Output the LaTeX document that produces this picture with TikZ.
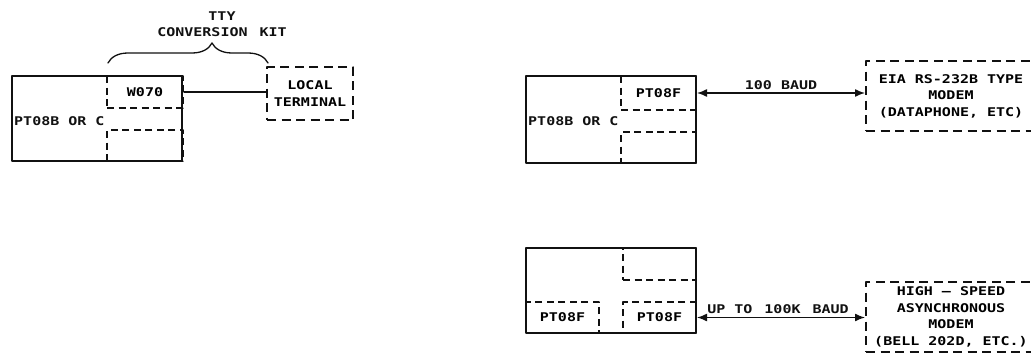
\documentclass[tikz,border=0pt]{standalone}
\usepackage{fontspec}
\setmainfont{DejaVu Sans Mono}[FakeStretch=1.25]
\usetikzlibrary{arrows.meta, decorations.pathreplacing, positioning}
\definecolor{ink}{HTML}{111111}
\tikzset{el/.style={line cap=round, line join=round},
  cpu/.style={draw=ink, line width=2.2pt, minimum width=170pt, anchor=north west, inner sep=0pt},
  slot/.style={draw=ink, line width=2pt, line cap=butt, dash pattern=on 7pt off 4.5pt, anchor=north west, inner sep=0pt},
  ext/.style={draw=ink, line width=2pt, line cap=butt, dash pattern=on 9pt off 5.5pt, align=center, inner sep=0pt},
  wire/.style={draw=ink, line width=1.4pt},
  bothtips/.style={{Latex[length=10pt,width=8pt]}-{Latex[length=10pt,width=8pt]}},
  lbl/.style={text=ink, inner sep=1pt}}

\begin{document}
\begin{tikzpicture}[el, x=1pt, y=-1pt, font=\fontsize{12}{16.5}\selectfont\bfseries]
  \useasboundingbox (0,0) rectangle (1031,356);
  % local terminal through the TTY kit
  \node[slot, minimum width=76pt, minimum height=32pt] (w070) at (106,75) {W070};
  \node[slot, minimum width=76pt, minimum height=31pt] (spareA) at (106,129) {};
  \node[cpu, minimum height=85pt] (cpuA) at (11,75) {};
  \node[lbl, anchor=west] (nameA) at (13,121) {PT08B OR C};
  \node[ext, minimum width=86pt, minimum height=53pt] (term) at (310,93.5) {LOCAL\\TERMINAL};
  \draw[wire] (w070.east) -- (w070.east -| term.west);
  \coordinate (kitL) at (108,63); \coordinate (kitR) at (268,63);
  \draw[ink, line width=1.3pt, decorate, decoration={brace, amplitude=20pt, aspect=0.65}] (kitL) -- (kitR);
  \node[lbl, align=center] (kit) at (222,24) {TTY\\CONVERSION\quad KIT};
  % modem at 100 baud
  \node[slot, minimum width=75pt, minimum height=34pt] (ptf) at (620,75) {PT08F};
  \node[slot, minimum width=75pt, minimum height=31pt] (spareB) at (620,131) {};
  \node[cpu, minimum height=87pt] (cpuB) at (525,75) {};
  \node[lbl, anchor=west] (nameB) at (527,121) {PT08B OR C};
  \node[ext, minimum width=170pt, minimum height=70pt, anchor=west] (eia) at (865,96) {EIA RS-232B TYPE\\MODEM\\(DATAPHONE, ETC)};
  \draw[wire, bothtips] (ptf.east) -- (ptf.east -| eia.west) node[lbl, midway, above=2pt] (baudA) {100 BAUD};
  % high-speed modem
  \node[slot, minimum width=73pt, minimum height=32pt] (spareC) at (622,247) {};
  \node[slot, minimum width=73pt, minimum height=31pt] (ptfL) at (525,301) {PT08F};
  \node[slot, minimum width=73pt, minimum height=31pt] (ptfR) at (622,301) {PT08F};
  \node[cpu, minimum height=85pt] (cpuC) at (525,247) {};
  \node[ext, minimum width=170pt, minimum height=70pt, anchor=west] (hsm) at (865,317) {HIGH -- SPEED\\ASYNCHRONOUS\\MODEM\\(BELL 202D, ETC.)};
  \draw[wire, bothtips] (ptfR.east) -- (ptfR.east -| hsm.west) node[lbl, midway, above=2pt, xshift=-3pt] (baudB) {UP TO\quad 100K\quad BAUD};
\end{tikzpicture}
\end{document}
